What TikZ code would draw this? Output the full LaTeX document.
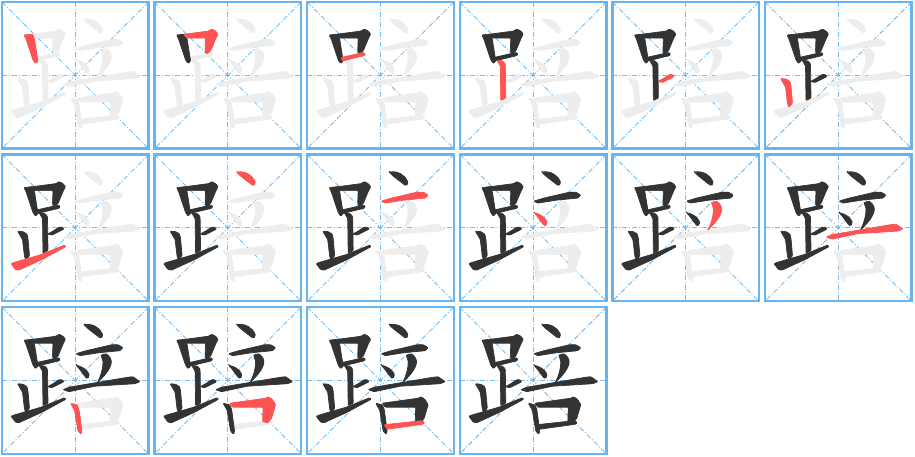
\documentclass[tikz,border=0pt]{standalone}
\definecolor{ink}{HTML}{333333}
\definecolor{hl}{HTML}{FF5252}
\definecolor{ghost}{HTML}{EDEDED}
\definecolor{framec}{HTML}{66B5F2}
\definecolor{guide}{HTML}{74BEF3}
\tikzset{
  guideline/.style={guide, line width=0.9pt, dash pattern=on 5pt off 2pt on 1pt off 2pt},
  framebox/.style={framec, line width=2.4pt},
  sk/.style={rounded corners=0.8pt, line width=0.7pt, line join=round}
}
\newcommand\drawstroke[2]{%
\ifcase#1\or
\filldraw[#2,sk] (23,34) -- (31.5,33) -- (33.5,38) -- (37,60) -- (34.5,62.5) -- (32,59) -- (25,38) -- cycle;%
\or
\filldraw[#2,sk] (30,33.3) -- (55,30) -- (58,28) -- (62,30) -- (64.5,33) -- (62,38) -- (57,50) -- (53,53) -- (51.5,50) -- (52,37) -- (33,37) -- cycle;%
\or
\filldraw[#2,sk] (35,56.5) -- (57,51.5) -- (59,52.5) -- (58.5,54.5) -- (36,60) -- cycle;%
\or
\filldraw[#2,sk] (38,59) -- (44,60) -- (46.5,63) -- (47,97) -- (42,99.5) -- (41.5,65) -- cycle;%
\or
\filldraw[#2,sk] (46.5,80.5) -- (52,77.5) -- (58,73.5) -- (61,73.5) -- (63,75.5) -- (60,77) -- (51,81.5) -- cycle;%
\or
\filldraw[#2,sk] (16.5,77.5) -- (22,78) -- (26,80.5) -- (27,85) -- (28.5,102) -- (25,106.5) -- (23.5,103) -- (21.5,86) -- (18,80) -- cycle;%
\or
\filldraw[#2,sk] (10,110) -- (14,108.5) -- (40,101) -- (63.5,91.5) -- (65,93) -- (41,106) -- (18,116.5) -- (14.5,116) -- cycle;%
\or
\filldraw[#2,sk] (83,18.5) .. controls (92,17) and (99,22) .. (101.5,28) .. controls (102,31) and (100,32.5) .. (98,31) .. controls (93,27) and (87,23) .. (83,18.5) -- cycle;%
\or
\filldraw[#2,sk] (75,47.5) -- (85,44.5) -- (111,38.5) -- (117,38.5) -- (122,41.5) -- (119,44.5) -- (98,46.5) -- (79,49.5) -- cycle;%
\or
\filldraw[#2,sk] (75,59) .. controls (80,60) and (86,63) .. (88,68) .. controls (88.5,71) and (86.5,72.5) .. (85,71.5) .. controls (82,68) and (79,63) .. (75,59) -- cycle;%
\or
\filldraw[#2,sk] (100,49) -- (105,47.5) .. controls (109,50) and (111,54) .. (110,58) .. controls (108,65) and (101,72) .. (96,77) .. controls (100,70) and (102,62) .. (102,55) -- cycle;%
\or
\filldraw[#2,sk] (62,83.5) -- (68,81) -- (127,71) -- (132,70.5) -- (139,75.5) -- (134,77.5) -- (94,80) -- (68,85.5) -- cycle;%
\or
\filldraw[#2,sk] (69.5,97) -- (76,98.5) -- (78,103) -- (81,125) -- (80,128) -- (77,125) -- (73.5,104) -- cycle;%
\or
\filldraw[#2,sk] (76,97) -- (112,92) -- (115,90.5) -- (119,93.5) -- (122,98.5) -- (118,112) -- (114.5,116.5) -- (109,115.5) -- (109.5,101) -- (79,101) -- cycle;%
\or
\filldraw[#2,sk] (78,118.5) -- (115,114.5) -- (118.5,116) -- (117,118) -- (81,123) -- cycle;%
\fi}
\begin{document}
\begin{tikzpicture}[x=1pt,y=-1pt]
\useasboundingbox (0,0) rectangle (915,456);
\fill[white] (0,0) rectangle (915,456);
\foreach \k in {1,...,16} {
  \pgfmathtruncatemacro\cc{mod(\k-1,6)}
  \pgfmathtruncatemacro\rr{div(\k-1,6)}
  \begin{scope}[shift={({1+152.6*\cc},{1+152.6*\rr})}]
    \draw[guideline] (1,74.3) -- (147.6,74.3);
    \draw[guideline] (74.3,1) -- (74.3,147.6);
    \draw[guideline] (1,1) -- (147.6,147.6);
    \draw[guideline] (147.6,1) -- (1,147.6);
    \foreach \s in {1,...,15} {
      \ifnum\s>\k\relax \drawstroke{\s}{ghost}\fi
    }
    \foreach \s in {1,...,15} {
      \ifnum\s<\k\relax \drawstroke{\s}{ink}\fi
      \ifnum\s=\k\relax \drawstroke{\s}{hl}\fi
    }
    \draw[framebox] (1,1) rectangle (147.6,147.6);
  \end{scope}
}
\end{tikzpicture}
\end{document}
